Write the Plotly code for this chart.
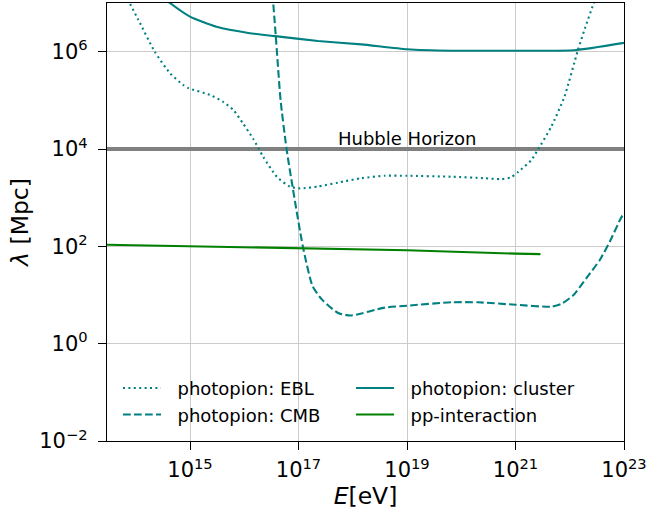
import numpy as np
import plotly.graph_objects as go

# Mean free paths of UHE particles: log10(E / eV) and log10(lambda / Mpc)
log_E_ebl = [13.85, 14.05, 14.35, 14.63, 14.87, 14.97, 15.37, 15.61, 15.8, 15.98,
             16.17, 16.35, 16.6, 16.84, 17.03, 17.36, 17.73, 18.16, 18.59, 19.0,
             19.82, 20.43, 20.74, 20.92, 21.05, 21.29, 21.41, 21.66, 21.9, 22.15,
             22.28, 22.43, 22.47]
log_L_ebl = [7.08, 6.65, 6.0, 5.56, 5.32, 5.25, 5.11, 4.97, 4.8, 4.52,
             4.2, 3.84, 3.43, 3.23, 3.19, 3.23, 3.31, 3.40, 3.45, 3.45,
             3.43, 3.40, 3.38, 3.42, 3.53, 3.77, 3.98, 4.46, 5.07, 6.03,
             6.48, 6.96, 7.08]

log_E_cmb = [16.52, 16.58, 16.67, 16.78, 16.89, 17.08, 17.26, 17.43, 17.73, 17.97,
             18.59, 19.0, 19.82, 20.31, 21.0, 21.66, 21.85, 22.07, 22.31, 22.56,
             22.74, 22.93, 23.0]
log_L_cmb = [7.2, 6.34, 5.0, 4.0, 3.23, 2.0, 1.18, 0.91, 0.63, 0.58,
             0.74, 0.78, 0.85, 0.85, 0.80, 0.76, 0.82, 1.0, 1.35, 1.73,
             2.1, 2.55, 2.69]

log_E_cluster = [14.5, 14.63, 15.0, 15.49, 16.1, 16.57, 17.36, 18.16, 19.0, 19.82,
                 21.0, 22.09, 23.0]
log_L_cluster = [7.12, 7.0, 6.72, 6.51, 6.38, 6.32, 6.22, 6.15, 6.05, 6.02,
                 6.02, 6.03, 6.18]

log_E_pp = [13.4, 17.0, 19.0, 21.0, 21.46]
log_L_pp = [2.035, 1.97, 1.92, 1.85, 1.84]

hubble_horizon = 1e4  # Mpc

x_tick_exp = [15, 17, 19, 21, 23]
y_tick_exp = [-2, 0, 2, 4, 6]

TEAL = "#008080"
GREEN = "#008000"
GRAY = "#808080"
FONT = "DejaVu Sans"
PAD = "&nbsp;&nbsp;"  # extra gap between legend handle and label


def pw(a):
    return 10.0 ** np.asarray(a)


fig = go.Figure()

# Hubble horizon reference line spanning the full energy range
fig.add_trace(go.Scatter(
    x=[10 ** 13.0, 10 ** 23.5], y=[hubble_horizon, hubble_horizon],
    mode="lines", line=dict(color=GRAY, width=4), showlegend=False,
    hoverinfo="skip"))

fig.add_trace(go.Scatter(
    x=pw(log_E_ebl), y=pw(log_L_ebl), mode="lines", name=PAD + "photopion: EBL",
    line=dict(color=TEAL, width=2.1, dash="2px,3.4px", shape="spline", smoothing=0.6),
    legend="legend"))
fig.add_trace(go.Scatter(
    x=pw(log_E_cmb), y=pw(log_L_cmb), mode="lines", name=PAD + "photopion: CMB",
    line=dict(color=TEAL, width=2.1, dash="7.7px,3.3px", shape="spline", smoothing=0.6),
    legend="legend"))
fig.add_trace(go.Scatter(
    x=pw(log_E_cluster), y=pw(log_L_cluster), mode="lines", name=PAD + "photopion: cluster",
    line=dict(color=TEAL, width=2.1, shape="spline", smoothing=0.5),
    legend="legend2"))
fig.add_trace(go.Scatter(
    x=pw(log_E_pp), y=pw(log_L_pp), mode="lines", name=PAD + "pp-interaction",
    line=dict(color=GREEN, width=2.1),
    legend="legend2"))

fig.add_annotation(
    x=19, y=4, xref="x", yref="y", text="Hubble Horizon", showarrow=False,
    xanchor="center", yanchor="middle", yshift=11,
    font=dict(family=FONT, size=18, color="black"))

axis_common = dict(
    type="log", showline=True, linecolor="black", linewidth=1.3, mirror=True,
    ticks="outside", ticklen=8, tickwidth=1.3, tickcolor="black",
    showgrid=True, gridcolor="#cccccc", gridwidth=1, zeroline=False,
    tickfont=dict(family=FONT, size=21, color="black"),
)

fig.update_xaxes(
    **axis_common, range=[13.47, 23], ticklabelstandoff=2,
    tickvals=[10.0 ** e for e in x_tick_exp],
    ticktext=[f"10<sup>{e}</sup>" for e in x_tick_exp],
    title=dict(text="<i>E</i>[eV]", font=dict(family=FONT, size=23.5, color="black"),
               standoff=3),
)
fig.update_yaxes(
    **axis_common, range=[-2, 7], ticklabelstandoff=6,
    tickvals=[10.0 ** e for e in y_tick_exp],
    ticktext=[f"10<sup>{'−' + str(-e) if e < 0 else e}</sup>" for e in y_tick_exp],
    title=dict(text="<i>λ</i> [Mpc]", font=dict(family=FONT, size=23.5, color="black"),
               standoff=4),
)

legend_common = dict(
    bgcolor="rgba(0,0,0,0)", borderwidth=0, itemwidth=38,
    font=dict(family=FONT, size=18, color="black"),
    xanchor="left", yanchor="top", tracegroupgap=0,
)
fig.update_layout(
    width=648, height=512,
    margin=dict(l=107, r=24, t=3, b=71, autoexpand=False),
    paper_bgcolor="white", plot_bgcolor="white",
    font=dict(family=FONT, color="black"),
    legend=dict(**legend_common, x=0.0213, y=0.1624),
    legend2=dict(**legend_common, x=0.472, y=0.1624),
)

fig.write_html("out.html")
